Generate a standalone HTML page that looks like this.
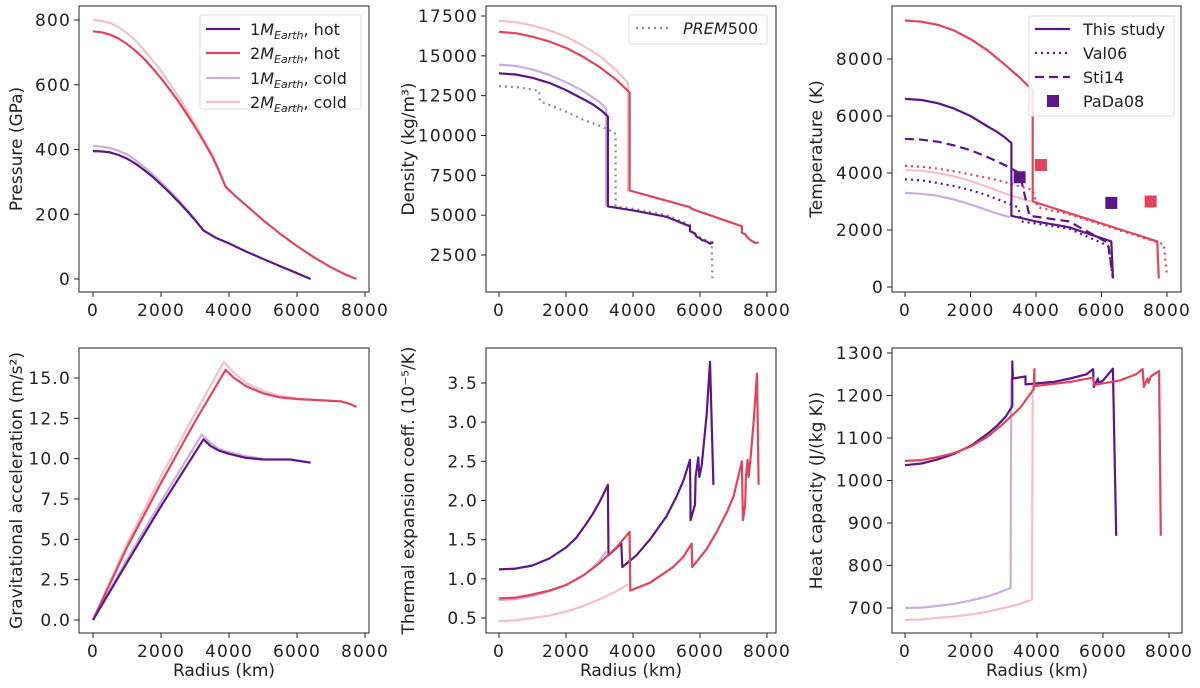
<!DOCTYPE html>
<html><head><meta charset="utf-8"><style>
html,body{margin:0;padding:0;background:#fff;}
svg{display:block;font-family:"DejaVu Sans","Liberation Sans",sans-serif;}
</style></head><body>
<svg id="fig" width="1200" height="688" viewBox="0 0 1200 688" xmlns="http://www.w3.org/2000/svg"></svg>
<script>
const xTicks=[0,2000,4000,6000,8000];
const pTicks=[0,200,400,600,800];
const rhoTicks=[2500,5000,7500,10000,12500,15000,17500];
const tTicks=[0,2000,4000,6000,8000];
const gTicks=[0,2.5,5,7.5,10,12.5,15];
const gTickLabels=["0.0","2.5","5.0","7.5","10.0","12.5","15.0"];
const aTicks=[0.5,1,1.5,2,2.5,3,3.5];
const aTickLabels=["0.5","1.0","1.5","2.0","2.5","3.0","3.5"];
const cpTicks=[700,800,900,1000,1100,1200,1300];

const p1h=[[0,395],[250,394],[500,391],[750,383],[1000,372],[1250,356],[1500,337],[1750,316],[2000,292],[2250,267],[2500,240],[2750,212],[3000,182],[3250,150],[3600,128],[4000,110],[4500,85],[5000,62],[5500,40],[6000,18],[6400,0]];
const p1c=[[0,411],[250,409],[500,405],[750,396],[1000,385],[1250,367],[1500,347],[1750,324],[2000,299],[2250,273],[2500,246],[2750,216],[3000,184],[3250,150]];
const p2h=[[0,765],[250,762],[500,755],[750,743],[1000,726],[1250,705],[1500,680],[1750,651],[2000,620],[2250,586],[2500,550],[2750,511],[3000,470],[3250,426],[3500,380],[3700,335],[3900,285],[4200,255],[4500,228],[5000,182],[5500,140],[6000,102],[6500,67],[7000,36],[7400,15],[7750,0]];
const p2c=[[0,800],[250,797],[500,791],[750,778],[1000,760],[1250,736],[1500,707],[1750,676],[2000,643],[2250,605],[2500,566],[2750,523],[3000,478],[3250,432],[3500,386],[3700,338],[3880,290]];

const r1h=[[0,13900],[500,13830],[1000,13620],[1500,13300],[2000,12850],[2500,12300],[2800,11950],[3050,11580],[3250,11200],[3250,5550],[4000,5300],[5000,4900],[5700,4300],[5700,4000],[5850,3850],[5900,3650],[6000,3550],[6050,3450],[6200,3350],[6300,3200],[6400,3300]];
const r1c=[[0,14450],[500,14370],[1000,14150],[1500,13800],[2000,13350],[2500,12800],[2800,12400],[3000,12100],[3200,11700],[3200,5600]];
const r2h=[[0,16500],[500,16420],[1000,16200],[1500,15900],[2000,15500],[2500,14950],[3000,14300],[3500,13500],[3900,12700],[3900,6550],[5700,5500],[5750,5400],[7250,4300],[7250,3900],[7350,3800],[7400,3650],[7500,3450],[7650,3250],[7750,3300]];
const r2c=[[0,17200],[500,17120],[1000,16900],[1500,16600],[2000,16200],[2500,15650],[3000,15000],[3500,14100],[3850,13300],[3850,6500]];
const prem=[[0,13100],[600,13020],[1200,12800],[1220,12150],[2000,11500],[2500,11000],[3000,10600],[3450,10200],[3480,9900],[3480,5550],[4000,5400],[5000,5000],[5700,4400],[5700,4000],[6000,3600],[6350,3300],[6370,1000]];

const t1h=[[0,6600],[500,6560],[1000,6450],[1500,6260],[2000,6000],[2500,5650],[2800,5450],[3050,5250],[3250,5050],[3250,2500],[4000,2300],[5000,2100],[6300,1600],[6350,300]];
const t1c=[[0,3300],[500,3270],[1000,3200],[1500,3070],[2000,2900],[2500,2700],[2700,2620],[3200,2450]];
const t2h=[[0,9350],[500,9310],[1000,9200],[1500,9000],[2000,8700],[2500,8320],[3000,7850],[3500,7350],[3900,6900],[3900,3000],[5000,2600],[7700,1600],[7750,300]];
const t2c=[[0,4100],[500,4080],[1000,4000],[1500,3880],[2000,3720],[2500,3520],[3000,3300],[3500,3120],[3850,3000]];
const val1=[[0,3780],[500,3740],[1000,3650],[1500,3540],[2000,3400],[2500,3220],[3000,3000],[3450,2800],[3550,2300],[5000,2050],[6200,1450],[6350,300]];
const val2=[[0,4250],[500,4220],[1000,4150],[1500,4060],[2000,3950],[2500,3830],[3000,3700],[3900,3400],[4050,2800],[5000,2550],[7900,1500],[8000,400]];
const sti=[[0,5200],[500,5170],[1000,5100],[1500,4970],[2000,4800],[2500,4570],[3000,4300],[3500,4000],[3800,2500],[5000,2300],[6200,1550],[6350,300]];
const pada1=[[3500,3850],[6300,2950]];
const pada2=[[4150,4280],[7500,3000]];

const g1h=[[0,0],[1000,3.55],[2000,7.05],[3250,11.2],[3450,10.8],[3700,10.5],[4000,10.3],[4500,10.05],[5000,9.95],[5800,9.95],[6400,9.75]];
const g1c=[[0,0],[1000,3.75],[2000,7.35],[3200,11.5],[3450,11.0],[3700,10.6],[4000,10.4],[4500,10.15],[5000,10.0]];
const g2h=[[0,0],[1000,4.5],[2000,8.5],[3000,12.3],[3900,15.5],[4150,15.0],[4500,14.5],[5000,14.05],[5500,13.8],[6000,13.7],[7300,13.55],[7550,13.4],[7750,13.2]];
const g2c=[[0,0],[1000,4.75],[2000,8.9],[3000,12.8],[3850,16.0],[4100,15.4],[4500,14.7],[5000,14.2],[5500,13.9],[6000,13.75]];

const a1h=[[0,1.12],[500,1.13],[1000,1.17],[1500,1.26],[2000,1.4],[2300,1.52],[2600,1.7],[2800,1.83],[3000,1.98],[3250,2.2],[3270,1.3],[3650,1.45],[3680,1.15],[4100,1.3],[4500,1.5],[5000,1.8],[5300,2.05],[5500,2.25],[5700,2.52],[5720,1.75],[5850,1.95],[5870,2.3],[5950,2.55],[5980,2.3],[6050,2.45],[6200,3.1],[6300,3.77],[6400,2.2]];
const a1c=[[0,0.73],[500,0.74],[1000,0.78],[1500,0.84],[2000,0.92],[2400,1.01],[2700,1.1],[3000,1.23],[3200,1.35]];
const a2h=[[0,0.75],[500,0.76],[1000,0.8],[1500,0.85],[2000,0.92],[2500,1.04],[3000,1.2],[3500,1.4],[3700,1.5],[3900,1.6],[3920,0.85],[4500,0.95],[5200,1.15],[5500,1.28],[5750,1.45],[5770,1.15],[6200,1.38],[6500,1.6],[6800,1.85],[7000,2.05],[7250,2.5],[7280,1.75],[7350,1.95],[7370,2.3],[7420,2.52],[7450,2.3],[7500,2.5],[7600,3.0],[7700,3.62],[7750,2.2]];
const a2c=[[0,0.46],[500,0.47],[1000,0.5],[1500,0.53],[2000,0.58],[2500,0.65],[3000,0.74],[3500,0.84],[3850,0.93]];

const c1h=[[0,1036],[500,1040],[1000,1050],[1500,1063],[2000,1082],[2500,1110],[2800,1130],[3050,1150],[3250,1175],[3250,1280],[3270,1240],[3650,1245],[3650,1226],[4500,1232],[5000,1240],[5500,1250],[5700,1262],[5720,1220],[5850,1240],[5870,1230],[6000,1235],[6300,1263],[6400,870]];
const c1c=[[0,700],[500,701],[1000,705],[1500,710],[2000,718],[2500,727],[2800,735],[3200,747],[3220,1240]];
const c2h=[[0,1046],[500,1048],[1000,1055],[1500,1065],[2000,1080],[2500,1103],[3000,1135],[3500,1172],[3900,1215],[3920,1262],[3920,1222],[5000,1232],[5700,1242],[5720,1225],[6500,1235],[7000,1250],[7200,1262],[7240,1220],[7350,1240],[7380,1230],[7450,1245],[7700,1258],[7750,870]];
const c2c=[[0,672],[500,673],[1000,677],[1500,680],[2000,685],[2500,691],[3000,700],[3500,710],[3850,720],[3870,1225]];

const C1H="#5d1685",C2H="#e0445f",C1C="#c9afdd",C2C="#f6c0c9",GR="#8c8c8c";
const NS="http://www.w3.org/2000/svg";
const svg=document.getElementById('fig');
function el(tag,attrs,parent){const e=document.createElementNS(NS,tag);for(const k in attrs)e.setAttribute(k,attrs[k]);(parent||svg).appendChild(e);return e;}

const panels=[
 {id:'pressure',l:79,r:369,t:6,b:292,x0:93,x8:365,v1:0,p1:279,v2:800,p2:20,ticks:pTicks,labels:null,ylabel:'Pressure (GPa)',xlabel:false},
 {id:'density',l:486,r:776,t:6,b:292,x0:499,x8:767,v1:2500,p1:255,v2:17500,p2:16,ticks:rhoTicks,labels:null,ylabel:'Density (kg/m³)',xlabel:false},
 {id:'temperature',l:892,r:1181,t:6,b:292,x0:905,x8:1167,v1:0,p1:287,v2:8000,p2:59,ticks:tTicks,labels:null,ylabel:'Temperature (K)',xlabel:false},
 {id:'gravity',l:79,r:369,t:348,b:633,x0:93,x8:365,v1:0,p1:620,v2:15,p2:378,ticks:gTicks,labels:gTickLabels,ylabel:'Gravitational acceleration (m/s²)',xlabel:true},
 {id:'expansion',l:486,r:776,t:348,b:633,x0:499,x8:767,v1:0.5,p1:618,v2:3.5,p2:383,ticks:aTicks,labels:aTickLabels,ylabel:'Thermal expansion coeff. (10⁻⁵/K)',xlabel:true},
 {id:'heat-capacity',l:892,r:1182,t:348,b:633,x0:905,x8:1169,v1:700,p1:608,v2:1300,p2:353,ticks:cpTicks,labels:null,ylabel:'Heat capacity (J/(kg K))',xlabel:true}
];
function sx(P,v){return P.x0+v/8000*(P.x8-P.x0);}
function sy(P,v){return P.p1+(v-P.v1)/(P.v2-P.v1)*(P.p2-P.p1);}

function drawLine(P,g,data,color,name,dash){
  const d=data.map((p,i)=>(i?'L':'M')+sx(P,p[0]).toFixed(1)+' '+sy(P,p[1]).toFixed(1)).join(' ');
  const a={d:d,fill:'none',stroke:color,'stroke-width':2.2,'stroke-linejoin':'round'};
  if(dash)a['stroke-dasharray']=dash;
  const e=el('path',a,g);
  
  
}

panels.forEach((P,i)=>{
  const g=el('g',{});
  
  
  const clip=el('clipPath',{id:'c'+i},g);el('rect',{x:P.l,y:P.t,width:P.r-P.l,height:P.b-P.t},clip);
  const plot=el('g',{'clip-path':'url(#c'+i+')'},g);
  
  
  P.plot=plot;
  xTicks.forEach(v=>{const x=sx(P,v);
    el('line',{x1:x,x2:x,y1:P.b,y2:P.b+5,stroke:'#222','stroke-width':1},g);
    const t=el('text',{x:x,y:P.b+24,'font-size':17,'letter-spacing':1.2,'text-anchor':'middle',fill:'#222'},g);t.textContent=v;
    
  });
  P.ticks.forEach((v,k)=>{const y=sy(P,v);
    el('line',{x1:P.l-5,x2:P.l,y1:y,y2:y,stroke:'#222','stroke-width':1},g);
    const t=el('text',{x:P.l-8,y:y+6,'font-size':17,'letter-spacing':1.2,'text-anchor':'end',fill:'#222'},g);t.textContent=P.labels?P.labels[k]:v;
    
  });
  const yl=(i%3==0)?22:(i%3==1?414:822);
  const cy=(P.t+P.b)/2;
  const t=el('text',{x:yl,y:cy,'font-size':17,'text-anchor':'middle',fill:'#222',transform:'rotate(-90 '+yl+' '+cy+')'},g);
  t.textContent=P.ylabel;
  if(P.xlabel){const x=el('text',{x:(P.l+P.r)/2,y:676,'font-size':17,'text-anchor':'middle',fill:'#222'},g);x.textContent='Radius (km)';
    }
  P.g=g;
});
const [PP,PD,PT,PG,PA,PC]=panels;
drawLine(PP,PP.plot,p2c,C2C,'line-2m-cold');drawLine(PP,PP.plot,p1c,C1C,'line-1m-cold');
drawLine(PP,PP.plot,p2h,C2H,'line-2m-hot');drawLine(PP,PP.plot,p1h,C1H,'line-1m-hot');
drawLine(PD,PD.plot,prem,GR,'line-prem500','2 4');
drawLine(PD,PD.plot,r2c,C2C,'line-2m-cold');drawLine(PD,PD.plot,r1c,C1C,'line-1m-cold');
drawLine(PD,PD.plot,r2h,C2H,'line-2m-hot');drawLine(PD,PD.plot,r1h,C1H,'line-1m-hot');
drawLine(PT,PT.plot,t2c,C2C,'line-2m-cold');drawLine(PT,PT.plot,t1c,C1C,'line-1m-cold');
drawLine(PT,PT.plot,val2,C2H,'line-val06-2m','2 4');drawLine(PT,PT.plot,val1,C1H,'line-val06-1m','2 4');
drawLine(PT,PT.plot,sti,C1H,'line-sti14','9 5');
drawLine(PT,PT.plot,t2h,C2H,'line-2m-hot');drawLine(PT,PT.plot,t1h,C1H,'line-1m-hot');
pada1.forEach(p=>{const r=el('rect',{x:sx(PT,p[0])-6,y:sy(PT,p[1])-6,width:12,height:12,fill:C1H},PT.plot);
  });
pada2.forEach(p=>{const r=el('rect',{x:sx(PT,p[0])-6,y:sy(PT,p[1])-6,width:12,height:12,fill:C2H},PT.plot);
  });
drawLine(PG,PG.plot,g2c,C2C,'line-2m-cold');drawLine(PG,PG.plot,g1c,C1C,'line-1m-cold');
drawLine(PG,PG.plot,g2h,C2H,'line-2m-hot');drawLine(PG,PG.plot,g1h,C1H,'line-1m-hot');
drawLine(PA,PA.plot,a2c,C2C,'line-2m-cold');drawLine(PA,PA.plot,a1c,C1C,'line-1m-cold');
drawLine(PA,PA.plot,a1h,C1H,'line-1m-hot');drawLine(PA,PA.plot,a2h,C2H,'line-2m-hot');
drawLine(PC,PC.plot,c2c,C2C,'line-2m-cold');drawLine(PC,PC.plot,c1c,C1C,'line-1m-cold');
drawLine(PC,PC.plot,c1h,C1H,'line-1m-hot');drawLine(PC,PC.plot,c2h,C2H,'line-2m-hot');
panels.forEach(P=>{const f=el('rect',{x:P.l,y:P.t,width:P.r-P.l,height:P.b-P.t,fill:'none',stroke:'#222','stroke-width':1},P.g);
  });

function legendBox(x,y,w,h,name){const r=el('rect',{x:x,y:y,width:w,height:h,fill:'#fff','fill-opacity':0.85,stroke:'#ddd','stroke-width':1,rx:2});
  }
legendBox(200,15,161,94,'legend-mass');
[[C1H,'1','hot',29],[C2H,'2','hot',53],[C1C,'1','cold',78],[C2C,'2','cold',102]].forEach(e=>{
  const g=el('g',{});
  
  
  el('line',{x1:206,x2:240,y1:e[3],y2:e[3],stroke:e[0],'stroke-width':2.2},g);
  const t=el('text',{x:250,y:e[3]+6,'font-size':16,fill:'#222'},g);
  t.innerHTML=e[1]+'<tspan font-style="italic">M</tspan><tspan font-style="italic" font-size="11" dy="4">Earth</tspan><tspan dy="-4">, '+e[2]+'</tspan>';
});
legendBox(629,15,138,29,'legend-prem');
{const g=el('g',{});
 el('line',{x1:636,x2:669,y1:28,y2:28,stroke:GR,'stroke-width':2.2,'stroke-dasharray':'2 4'},g);
 const t=el('text',{x:683,y:34,'font-size':16,fill:'#222'},g);t.innerHTML='<tspan font-style="italic">PREM</tspan>500';}
legendBox(1029,16,145,100,'legend-sources');
[['This study',null,29],['Val06','2 4',53],['Sti14','9 5',77]].forEach(e=>{
  const g=el('g',{});
  const a={x1:1035,x2:1070,y1:e[2],y2:e[2],stroke:C1H,'stroke-width':2.2};if(e[1])a['stroke-dasharray']=e[1];
  el('line',a,g);const t=el('text',{x:1083,y:e[2]+6,'font-size':16,fill:'#222'},g);t.textContent=e[0];});
{const g=el('g',{});
 el('rect',{x:1047,y:95,width:12,height:12,fill:C1H},g);
 const t=el('text',{x:1083,y:107,'font-size':16,fill:'#222'},g);t.textContent='PaDa08';}
</script>
</body></html>
